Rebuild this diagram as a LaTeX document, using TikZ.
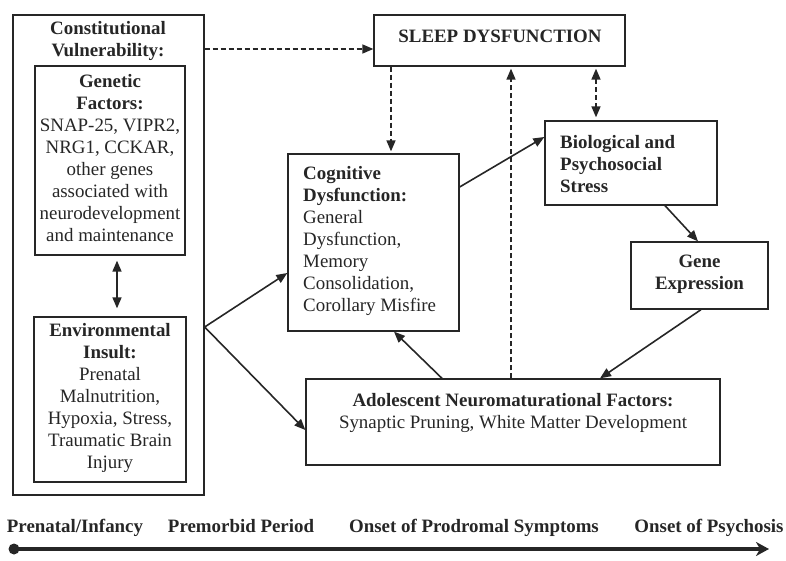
\documentclass[tikz,border=0pt]{standalone}
\usepackage{fontspec}
\setmainfont{Liberation Serif}
\usetikzlibrary{arrows.meta,calc}
\begin{document}
\begin{tikzpicture}[x=1pt,y=-1pt,
  font=\fontsize{18.9}{22}\selectfont,
  box/.style={draw=black!85,line width=1.3pt,inner sep=0pt},
  lbl/.style={inner sep=0pt,align=center,text=black!85},
  lbll/.style={inner sep=0pt,align=left,text=black!85},
  arr/.style={line width=1.6pt,draw=black!85,-{Triangle[length=11pt,width=9pt]}},
  darr/.style={arr,dash pattern=on 5pt off 3pt},
  tl/.style={inner sep=0pt,anchor=base,font=\fontsize{18.9}{22}\selectfont\bfseries,text=black!85}]
\useasboundingbox (0,0) rectangle (786,561);
% boxes
\node[box,minimum width=191pt,minimum height=480pt] (con) at (108.5,255) {};
\node[box,minimum width=150pt,minimum height=189pt] (gen) at (110,160.5) {};
\node[box,minimum width=152pt,minimum height=165pt] (env) at (110,399.5) {};
\node[box,minimum width=171pt,minimum height=177pt] (cog) at (373.5,242.5) {};
\node[box,minimum width=251pt,minimum height=51pt] (sleep) at (499.5,40.5) {};
\node[box,minimum width=172pt,minimum height=84pt] (bio) at (631,163) {};
\node[box,minimum width=137pt,minimum height=67pt] (gene) at (699.5,275.5) {};
\node[box,minimum width=414pt,minimum height=86pt] (ado) at (513,422) {};
% texts
\node[lbl,font=\fontsize{18.9}{22}\selectfont\bfseries] (conT) at (108,41) {Constitutional\\Vulnerability:};
\node[lbl] (genT) at (110,158) {\textbf{Genetic}\\\textbf{Factors:}\\SNAP-25, VIPR2,\\NRG1, CCKAR,\\other genes\\associated with\\neurodevelopment\\and maintenance};
\node[lbl] (envT) at (110,398) {\textbf{Environmental}\\\textbf{Insult:}\\Prenatal\\Malnutrition,\\Hypoxia, Stress,\\Traumatic Brain\\Injury};
\node[lbll,anchor=west] (cogT) at (303,240.5) {\textbf{Cognitive}\\\textbf{Dysfunction:}\\General\\Dysfunction,\\Memory\\Consolidation,\\Corollary Misfire};
\node[lbll,anchor=west,font=\fontsize{18.9}{22}\selectfont\bfseries] (bioT) at (560,164) {Biological and\\Psychosocial\\Stress};
\node[lbl,font=\fontsize{18.9}{22}\selectfont\bfseries] (geneT) at (699.5,274.5) {Gene\\Expression};
\node[lbl,font=\fontsize{18.9}{22}\selectfont\bfseries] (sleepT) at (500,36) {SLEEP DYSFUNCTION};
\node[lbl] (adoT) at (513,412.5) {\textbf{Adolescent Neuromaturational Factors:}\\Synaptic Pruning, White Matter Development};
% connectors
\draw[darr] (con.east |- 0,49) -- (sleep.west |- 0,49);
\draw[darr,shorten >=2pt] (sleep.south -| 391,0) -- (cog.north -| 391,0);
\draw[darr,shorten >=2pt] (ado.north -| 511,0) -- (sleep.south -| 511,0);
\draw[darr,{Triangle[length=11pt,width=9pt]}-{Triangle[length=11pt,width=9pt]},shorten <=2pt,shorten >=3pt] (sleep.south -| 596,0) -- (bio.north -| 596,0);
\draw[arr,{Triangle[length=11pt,width=9pt]}-{Triangle[length=11pt,width=9pt]},shorten <=5pt,shorten >=8pt] (gen.south -| 117,0) -- (env.north -| 117,0);
\coordinate (cE) at (con.east |- 0,327);
\draw[arr] (cE) -- (cog.west |- 0,273);
\draw[arr] (cE) -- (ado.west |- 0,430);
\draw[arr] (cog.east |- 0,187) -- (bio.west |- 0,137);
\draw[arr] (bio.south -| 665,0) -- (gene.north -| 698,0);
\draw[arr] (gene.south -| 701,0) -- (ado.north -| 600,0);
\draw[arr] (ado.north -| 442,0) -- (cog.south -| 394,0);
% timeline
\node[tl] (t1) at (75,532) {Prenatal/Infancy};
\node[tl] (t2) at (241,532) {Premorbid Period};
\node[tl] (t3) at (474,532) {Onset of Prodromal Symptoms};
\node[tl] (t4) at (709,532) {Onset of Psychosis};
\node[circle,fill=black!85,minimum size=11pt,inner sep=0pt] (tdot) at (14,549) {};
\coordinate (tend) at (769,549);
\draw[line width=4pt,draw=black!85,-{Stealth[length=13pt,width=14pt,inset=4pt]}] (tdot.center) -- (tend);
\end{tikzpicture}
\end{document}
